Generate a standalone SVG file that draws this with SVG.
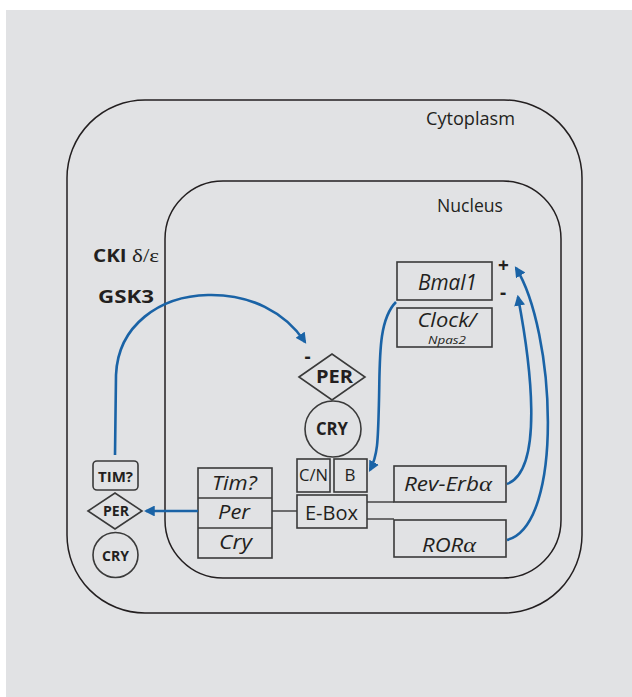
<svg xmlns="http://www.w3.org/2000/svg" width="632" height="697" viewBox="0 0 632 697">
<defs>
<style>
.t{font-family:"Open Sans","Noto Sans","Liberation Sans",sans-serif;fill:#231f20}
.b{font-weight:bold}
.i{font-style:italic}
.bx{fill:none;stroke:#3a3a3a;stroke-width:1.6}
.mem{fill:none;stroke:#231f20;stroke-width:1.5}
.con{fill:none;stroke:#1a63a6;stroke-width:2.6}
.ln{fill:none;stroke:#3a3a3a;stroke-width:1.4}
.gr{font-family:"Liberation Serif",serif}
</style>
<marker id="ah" viewBox="0 0 10 10" refX="8" refY="5" markerWidth="4.2" markerHeight="4.2" orient="auto" markerUnits="strokeWidth">
<path d="M0,0 L10,5 L0,10 z" fill="#1a63a6"/>
</marker>
</defs>
<rect x="6" y="10" width="626" height="687" fill="#e1e2e4"/>
<g id="cytoplasm">
<rect class="mem" x="67" y="100" width="515" height="513" rx="78" ry="78"/>
<text class="t" x="470.5" y="125" font-size="18" text-anchor="middle" textLength="89" lengthAdjust="spacingAndGlyphs">Cytoplasm</text>
</g>
<g id="nucleus">
<rect class="mem" x="165" y="181" width="396" height="397" rx="58" ry="58"/>
<text class="t" x="470" y="212" font-size="18" text-anchor="middle" textLength="66" lengthAdjust="spacingAndGlyphs">Nucleus</text>
</g>
<g id="kinases">
<text class="t b" x="93" y="262" font-size="17" textLength="66" lengthAdjust="spacingAndGlyphs">CKI <tspan class="gr" font-weight="normal" font-size="19">δ/ε</tspan></text>
<text class="t b" x="98" y="303" font-size="18" textLength="56" lengthAdjust="spacingAndGlyphs">GSK3</text>
</g>
<g id="bmal1">
<rect class="bx" x="397" y="262" width="95" height="38"/>
<text class="t i" x="447.5" y="290" font-size="21" text-anchor="middle" textLength="59" lengthAdjust="spacingAndGlyphs">Bmal1</text>
</g>
<g id="clock">
<rect class="bx" x="397" y="308" width="95" height="39"/>
<text class="t i" x="447" y="327" font-size="20" text-anchor="middle" textLength="59" lengthAdjust="spacingAndGlyphs">Clock/</text>
<text class="t i" x="447" y="343.5" font-size="11" text-anchor="middle" textLength="38" lengthAdjust="spacingAndGlyphs">Npas2</text>
</g>
<g id="signs">
<text class="t b" x="503.5" y="272" font-size="19" text-anchor="middle">+</text>
<text class="t b" x="503" y="299" font-size="19" text-anchor="middle">-</text>
<text class="t b" x="307.5" y="363" font-size="19" text-anchor="middle">-</text>
</g>
<g id="per-nuc">
<polygon class="bx" points="299,377 332,354 365,377 332,400"/>
<text class="t b" x="334.5" y="383" font-size="17" text-anchor="middle" textLength="37" lengthAdjust="spacingAndGlyphs">PER</text>
</g>
<g id="cry-nuc">
<circle class="bx" cx="333" cy="429" r="28"/>
<text class="t b" x="332" y="435" font-size="17" text-anchor="middle" textLength="32" lengthAdjust="spacingAndGlyphs">CRY</text>
</g>
<g id="cn">
<rect class="bx" x="297" y="459" width="33" height="33"/>
<text class="t" x="313.5" y="481" font-size="17" text-anchor="middle" textLength="29" lengthAdjust="spacingAndGlyphs">C/N</text>
</g>
<g id="b">
<rect class="bx" x="334" y="459" width="33" height="33"/>
<text class="t" x="350" y="481" font-size="17" text-anchor="middle">B</text>
</g>
<g id="ebox">
<rect class="bx" x="297" y="495" width="70" height="33"/>
<text class="t" x="331.5" y="520" font-size="20" text-anchor="middle" textLength="53" lengthAdjust="spacingAndGlyphs">E-Box</text>
</g>
<g id="reverb">
<rect class="bx" x="394" y="466" width="112" height="36"/>
<text class="t i" x="448" y="491" font-size="20" text-anchor="middle" textLength="88" lengthAdjust="spacingAndGlyphs">Rev-Erb<tspan class="gr" font-size="22">α</tspan></text>
</g>
<g id="rora">
<rect class="bx" x="394" y="520" width="112" height="37"/>
<text class="t i" x="449" y="552" font-size="20" text-anchor="middle" textLength="54" lengthAdjust="spacingAndGlyphs">ROR<tspan class="gr" font-size="22">α</tspan></text>
</g>
<g id="genes">
<rect class="bx" x="198" y="468" width="74" height="90"/>
<line class="bx" x1="198" y1="498" x2="272" y2="498" stroke-width="2.2"/>
<line class="bx" x1="198" y1="528" x2="272" y2="528" stroke-width="2.2"/>
<text class="t i" x="234.5" y="490" font-size="20" text-anchor="middle" textLength="45" lengthAdjust="spacingAndGlyphs">Tim?</text>
<text class="t i" x="234" y="519" font-size="20" text-anchor="middle" textLength="32" lengthAdjust="spacingAndGlyphs">Per</text>
<text class="t i" x="235.5" y="549" font-size="20" text-anchor="middle" textLength="33" lengthAdjust="spacingAndGlyphs">Cry</text>
</g>
<g id="tim-cyt">
<rect class="bx" x="93" y="461" width="45" height="29" rx="4" ry="4"/>
<text class="t b" x="115.5" y="482" font-size="14" text-anchor="middle" textLength="35" lengthAdjust="spacingAndGlyphs">TIM?</text>
</g>
<g id="per-cyt">
<polygon class="bx" points="88,511 115,493 142,511 115,529"/>
<text class="t b" x="116" y="515.5" font-size="13.5" text-anchor="middle" textLength="26" lengthAdjust="spacingAndGlyphs">PER</text>
</g>
<g id="cry-cyt">
<circle class="bx" cx="115.5" cy="555" r="22.5"/>
<text class="t b" x="115.5" y="561" font-size="15" text-anchor="middle" textLength="27" lengthAdjust="spacingAndGlyphs">CRY</text>
</g>
<g id="connectors">
<line class="ln" x1="272" y1="511" x2="297" y2="511"/>
<line class="ln" x1="367" y1="502" x2="394" y2="502"/>
<line class="ln" x1="367" y1="519" x2="394" y2="519"/>
<line class="con" x1="198" y1="511" x2="146" y2="511" marker-end="url(#ah)"/>
<path class="con" d="M115,455 L116,375 C118,325 160,296 208,295 C250,294 285,312 305,342" marker-end="url(#ah)"/>
<path class="con" d="M396,302 C378,320 380,360 379,400 C378,440 378,455 370,470" marker-end="url(#ah)"/>
<path class="con" d="M507,484 C545,470 530,360 518,297" marker-end="url(#ah)"/>
<path class="con" d="M507,540 C565,525 555,330 516,268" marker-end="url(#ah)"/>
</g>
</svg>
